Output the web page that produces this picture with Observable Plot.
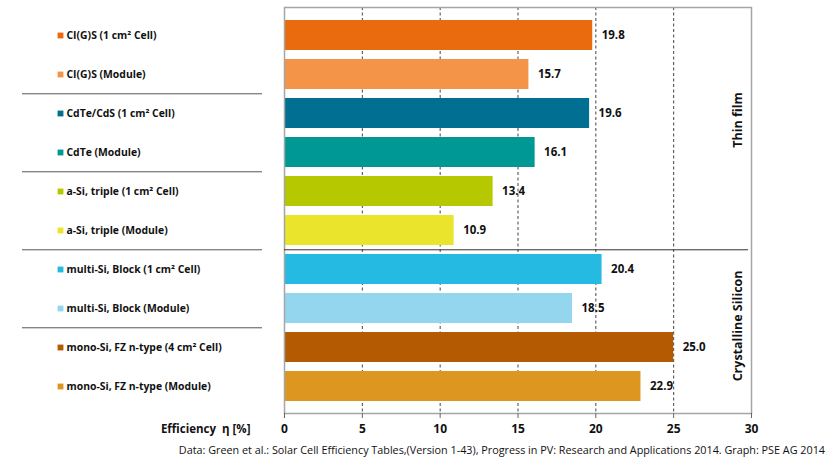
<!DOCTYPE html>
<html>
<head>
<meta charset="utf-8">
<script src="https://cdn.jsdelivr.net/npm/d3@7"></script>
<script src="https://cdn.jsdelivr.net/npm/@observablehq/plot@0.6"></script>
<style>
  body { margin: 0; background: #fff; font-family: "Open Sans", sans-serif; }
  #caption { width: 833px; box-sizing: border-box; text-align: right; padding-right: 8px; font-size: 10.8px; color: #111; margin-top: 2px; }
</style>
</head>
<body>
<div id="chart"></div>
<div id="caption"></div>
<script>
const labels = [
  "CI(G)S (1 cm² Cell)",
  "CI(G)S (Module)",
  "CdTe/CdS (1 cm² Cell)",
  "CdTe (Module)",
  "a-Si, triple (1 cm² Cell)",
  "a-Si, triple (Module)",
  "multi-Si, Block (1 cm² Cell)",
  "multi-Si, Block (Module)",
  "mono-Si, FZ n-type (4 cm² Cell)",
  "mono-Si, FZ n-type (Module)"
];
const values = [19.8, 15.7, 19.6, 16.1, 13.4, 10.9, 20.4, 18.5, 25.0, 22.9];
const colors = ["#EA6B0E", "#F39449", "#006F92", "#009894", "#B5C800", "#EAE52C", "#25BAE2", "#95D6EF", "#B35A02", "#DD961F"];
const xTicks = [0, 5, 10, 15, 20, 25, 30];
const gridTicks = [5, 10, 15, 20, 25];
const groupLabels = ["Thin film", "Crystalline Silicon"];
const groupRows = [labels[2], labels[7]];
const separatorRows = [labels[2], labels[4], labels[6], labels[8]];
const groupBoundary = [labels[6]];
const xLabel = "Efficiency  η [%]";
const caption = "Data: Green et al.: Solar Cell Efficiency Tables,(Version 1-43), Progress in PV: Research and Applications 2014. Graph: PSE AG 2014";

const W = 833, H = 440;
const mTop = 7, mBottom = 27, mLeft = 284, mRight = 82;
const pInner = 0.24, pOuter = 0.27;
const step = (H - mTop - mBottom) / (labels.length - pInner + 2 * pOuter);
const groupShift = [6.5, 17.4];

const rows = labels.map((l, i) => ({label: l, value: values[i], color: colors[i]}));

const groupMarks = groupLabels.map((g, i) =>
  Plot.text([g], {y: () => groupRows[i], text: d => d, frameAnchor: "right", textAnchor: "middle", lineAnchor: "middle", dx: -14, dy: groupShift[i], rotate: -90, fontSize: 12.5, fontWeight: "bold", fill: "#111"})
);

const chart = Plot.plot({
  width: W,
  height: H,
  marginTop: mTop,
  marginBottom: mBottom,
  marginLeft: mLeft,
  marginRight: mRight,
  style: {fontFamily: "'Open Sans', sans-serif", color: "#111", background: "#fff"},
  x: {domain: [0, 30], ticks: xTicks, label: null},
  y: {domain: labels, paddingInner: pInner, paddingOuter: pOuter, axis: null},
  marks: [
    Plot.ruleX(gridTicks, {stroke: "#444", strokeDasharray: "3,2.5", strokeWidth: 1}),
    Plot.barX(rows, {x: "value", y: "label", fill: "color"}),
    Plot.frame({stroke: "#a5a5a5", strokeWidth: 1.5}),
    Plot.axisX({ticks: xTicks, tickSize: 5, tickPadding: 6, fontSize: 12, fontWeight: "bold", stroke: "#666", label: null, tickFormat: d => d}),
    Plot.text(rows, {x: "value", y: "label", text: d => d.value.toFixed(1), textAnchor: "start", dx: 9, fontSize: 11.5, fontWeight: "bold", fill: "#111"}),
    Plot.dot(rows, {y: "label", frameAnchor: "left", dx: -224, symbol: "square", r: 3.3, fill: "color", stroke: null}),
    Plot.text(rows, {y: "label", text: "label", frameAnchor: "left", textAnchor: "start", dx: -218, fontSize: 10.4, fontWeight: "bold", fill: "#111"}),
    Plot.ruleY(separatorRows, {y: d => d, dy: -step / 2, insetLeft: -262, insetRight: 489, stroke: "#555", strokeWidth: 1}),
    Plot.ruleY(groupBoundary, {y: d => d, dy: -step / 2, insetRight: 3, stroke: "#333", strokeWidth: 1}),
    ...groupMarks,
    Plot.text([xLabel], {frameAnchor: "bottom-left", text: d => d, textAnchor: "end", dx: -34, dy: 19, fontSize: 11.5, fontWeight: "bold", fill: "#111"})
  ]
});
document.getElementById("chart").appendChild(chart);
document.getElementById("caption").textContent = caption;
</script>
</body>
</html>
